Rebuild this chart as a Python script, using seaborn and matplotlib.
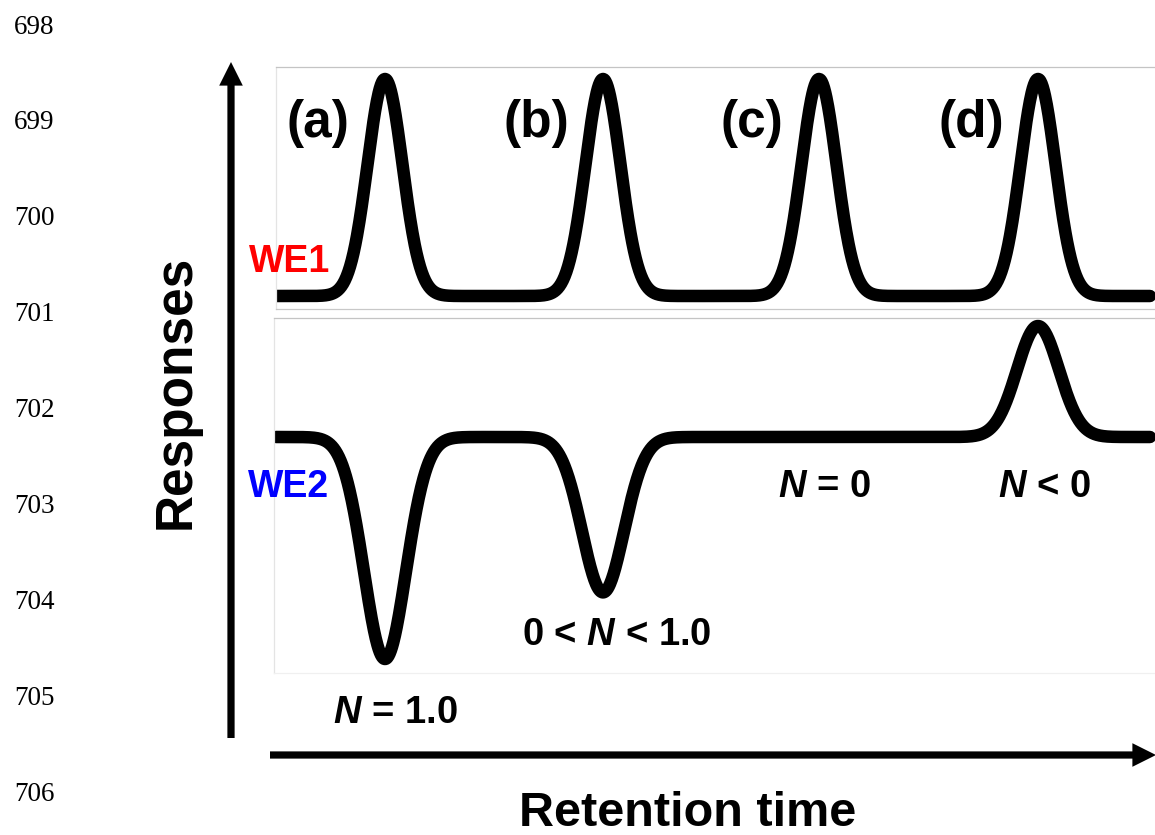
import numpy as np
import pandas as pd
import matplotlib
matplotlib.use("Agg")
import matplotlib.pyplot as plt
from matplotlib.patches import FancyArrowPatch
import seaborn as sns

# ---- data -------------------------------------------------------------
ytick_values = [698, 699, 700, 701, 702, 703, 704, 705, 706]
case_labels = ["(a)", "(b)", "(c)", "(d)"]
peak_times = [1.09, 3.27, 5.43, 7.62]          # retention time of each peak
we1_heights = [1.0, 1.0, 1.0, 1.0]             # WE1 response
we2_heights = [-1.0, -0.7, 0.0, 0.5]           # WE2 response (sign gives N)
n_labels = [r"$N$ = 1.0", r"0 < $N$ < 1.0", r"$N$ = 0", r"$N$ < 0"]
we1_width = 0.175
we2_width = 0.21

# ---- style ------------------------------------------------------------
sns.set_style("white")
plt.rcParams["font.family"] = ["Liberation Sans", "DejaVu Sans"]
plt.rcParams["font.weight"] = "bold"
plt.rcParams["text.color"] = "black"
plt.rcParams["mathtext.fontset"] = "custom"
plt.rcParams["mathtext.it"] = "Liberation Sans:italic:bold"
plt.rcParams["mathtext.rm"] = "Liberation Sans:bold"

W, H = 1155, 835
fig = plt.figure(figsize=(W / 100, H / 100), dpi=100)
fig.patch.set_facecolor("white")


def fx(px):
    return px / W


def fy(py):
    return 1 - py / H


# ---- outer axis carrying the numeric ticks -----------------------------
ax = fig.add_axes([fx(56), 0, 1 - fx(56), 1])
ax.set_facecolor("white")
px_per_unit = 95.9
ax.set_ylim(698 + (H - 24) / px_per_unit, 698 - 24 / px_per_unit)
ax.set_yticks(ytick_values)
ax.set_yticklabels([str(v) for v in ytick_values],
                   fontfamily="Liberation Serif", fontweight="normal",
                   fontsize=19.5, color="black")
ax.tick_params(axis="y", length=0, pad=1)
ax.set_xticks([])
for s in ax.spines.values():
    s.set_visible(False)

# ---- chromatogram panels ----------------------------------------------
t = np.linspace(0.0, 8.74, 1500)


def trace(heights, width):
    y = np.zeros_like(t)
    for c, h in zip(peak_times, heights):
        y += h * np.exp(-(t - c) ** 2 / (2 * width ** 2))
    return y


df1 = pd.DataFrame({"time": t, "response": trace(we1_heights, we1_width)})
df2 = pd.DataFrame({"time": t, "response": trace(we2_heights, we2_width)})

ax1 = fig.add_axes([fx(276), fy(309), fx(1162 - 276), (309 - 67) / H])
ax2 = fig.add_axes([fx(274), fy(673), fx(1162 - 274), (673 - 318) / H])

lw = 9.0
sns.lineplot(data=df1, x="time", y="response", ax=ax1, color="black",
             linewidth=lw, estimator=None, solid_capstyle="round")
sns.lineplot(data=df2, x="time", y="response", ax=ax2, color="black",
             linewidth=lw, estimator=None, solid_capstyle="round")

ax1.set_xlim(0, 8.86)
ax1.set_ylim(-(309 - 296) / 217, (296 - 67) / 217)
ax2.set_xlim(-0.02, 8.86)
ax2.set_ylim(-(673 - 437) / 222, (437 - 318) / 222)

for a in (ax1, ax2):
    a.set_xlabel("")
    a.set_ylabel("")
    a.set_xticks([])
    a.set_yticks([])
    a.set_facecolor("white")
    a.spines["right"].set_visible(False)
    for s in a.spines.values():
        s.set_linewidth(0.9)

ax1.spines["top"].set_color("#c4c4c4")
ax1.spines["bottom"].set_color("#c8c8c8")
ax1.spines["left"].set_color("#e4e4e4")
ax2.spines["top"].set_color("#c4c4c4")
ax2.spines["left"].set_color("#e4e4e4")
ax2.spines["bottom"].set_color("#f0f0f0")

# case letters above the WE1 peaks
for c, lab in zip(peak_times, case_labels):
    ax1.text(c - 0.67, (296 - 123) / 217, lab, ha="center", va="center",
             fontsize=37, fontweight="bold", color="black")

# N annotations next to the WE2 peaks
n_offsets = [(0.10, -1.288), (0.14, -0.937), (0.05, -0.27), (0.06, -0.27)]
for c, lab, (dx, yl) in zip(peak_times, n_labels, n_offsets):
    ax2.text(c + dx, yl, lab, ha="center", va="baseline", fontsize=27.5,
             fontweight="bold", color="black", clip_on=False)

# electrode labels
fig.text(fx(290), fy(272), "WE1", color="#ff0000", fontsize=27,
         fontweight="bold", ha="center", va="baseline")
fig.text(fx(289), fy(497), "WE2", color="#0000ff", fontsize=27,
         fontweight="bold", ha="center", va="baseline")

# axis titles
fig.text(fx(190), fy(392), "Responses", rotation=90, rotation_mode="anchor",
         ha="center", va="baseline", fontsize=37, fontweight="bold",
         color="black")
fig.text(fx(688), fy(826), "Retention time", ha="center", va="baseline",
         fontsize=35, fontweight="bold", color="black")

# axis arrows (filled heads)
arrow_style = "simple,head_length=0.85,head_width=0.85,tail_width=0.26"
for tail, tip in [((231, 738), (231, 62)), ((270, 755), (1156, 755))]:
    fig.patches.append(FancyArrowPatch(
        (fx(tail[0]), fy(tail[1])), (fx(tip[0]), fy(tip[1])),
        transform=fig.transFigure, arrowstyle=arrow_style,
        mutation_scale=20, facecolor="black", edgecolor="none", lw=0,
        shrinkA=0, shrinkB=0))

fig.savefig("out.png", dpi=100)
